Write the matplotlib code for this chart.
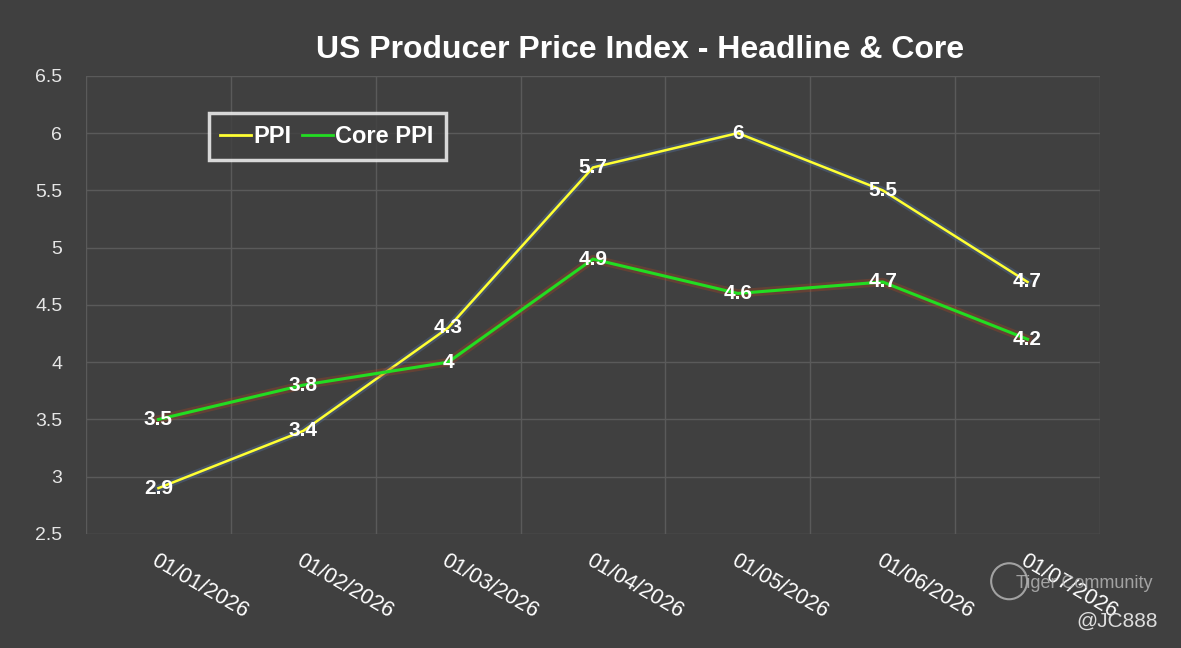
import matplotlib.pyplot as plt
import matplotlib.patheffects as pe
from matplotlib.patches import Ellipse
import numpy as np

plt.rcParams['font.family'] = ['Liberation Sans', 'DejaVu Sans']

dates = ['01/01/2026', '01/02/2026', '01/03/2026', '01/04/2026',
         '01/05/2026', '01/06/2026', '01/07/2026']
ppi = [2.9, 3.4, 4.3, 5.7, 6.0, 5.5, 4.7]
core_ppi = [3.5, 3.8, 4.0, 4.9, 4.6, 4.7, 4.2]
ppi_labels = ['2.9', '3.4', '4.3', '5.7', '6', '5.5', '4.7']
core_labels = ['3.5', '3.8', '4', '4.9', '4.6', '4.7', '4.2']

bg = '#404040'
fig = plt.figure(figsize=(11.81, 6.48), dpi=100, facecolor=bg)
ax = fig.add_axes([0.0728, 0.176, 0.8586, 0.707])
ax.set_facecolor(bg)

x = np.arange(len(dates))
ax.plot(x, ppi, color='#ffff33', lw=1.8, label='PPI', zorder=3,
        path_effects=[pe.Stroke(linewidth=5, foreground='#5577aa', alpha=0.35), pe.Normal()])
ax.plot(x, core_ppi, color='#22dd22', lw=2.2, label='Core PPI', zorder=3,
        path_effects=[pe.Stroke(linewidth=6, foreground='#aa4422', alpha=0.35), pe.Normal()])

for xi, v, t in zip(x, ppi, ppi_labels):
    ax.text(xi, v, t, color='white', fontsize=15, fontweight='bold',
            ha='center', va='center', zorder=5)
for xi, v, t in zip(x, core_ppi, core_labels):
    ax.text(xi, v, t, color='white', fontsize=15, fontweight='bold',
            ha='center', va='center', zorder=5)

ax.set_xlim(-0.5, len(dates) - 0.5)
ax.set_ylim(2.5, 6.5)
ax.set_yticks(np.arange(2.5, 6.51, 0.5))
ax.set_yticklabels(['2.5', '3', '3.5', '4', '4.5', '5', '5.5', '6', '6.5'])
ax.set_xticks(x)
ax.set_xticklabels(dates, rotation=-30, ha='left', va='top', rotation_mode='anchor')
ax.set_xticks(np.arange(-0.5, len(dates), 1), minor=True)
ax.tick_params(axis='y', colors='#e6e6e6', labelsize=14, length=0, pad=17)
ax.tick_params(axis='x', colors='white', labelsize=15.5, length=0, pad=12)
ax.tick_params(axis='x', which='minor', length=0)
ax.grid(axis='y', color='#5a5a5a', lw=1)
ax.grid(axis='x', which='minor', color='#5a5a5a', lw=1)
for s in ax.spines.values():
    s.set_visible(False)

leg = ax.legend(loc='upper left', bbox_to_anchor=(0.121, 0.918), ncol=2,
                frameon=True, fontsize=17, handlelength=1.3, handletextpad=0.1,
                columnspacing=0.45, borderpad=0.5, borderaxespad=0, fancybox=False)
leg.get_frame().set_facecolor(bg)
leg.get_frame().set_edgecolor('white')
leg.get_frame().set_linewidth(2.5)
for t in leg.get_texts():
    t.set_color('white')
    t.set_fontweight('bold')
for h in leg.get_lines():
    h.set_path_effects([])
    h.set_linewidth(2)

fig.text(0.542, 0.923, 'US Producer Price Index - Headline & Core', color='white',
         fontsize=23, fontweight='bold', ha='center', va='center')

# watermark
fig.text(0.86, 0.1, 'Tiger Community', color='#bbbbbb', fontsize=13, ha='left', va='center', alpha=0.8)
fig.text(0.98, 0.041, '@JC888', color='#dddddd', fontsize=15, ha='right', va='center')
logo = Ellipse((0.8545, 0.103), 36 / 1181, 36 / 648, transform=fig.transFigure, fill=False,
               edgecolor='#bbbbbb', lw=1.5, alpha=0.8)
fig.add_artist(logo)

plt.savefig('out.png', dpi=100, facecolor=bg)
